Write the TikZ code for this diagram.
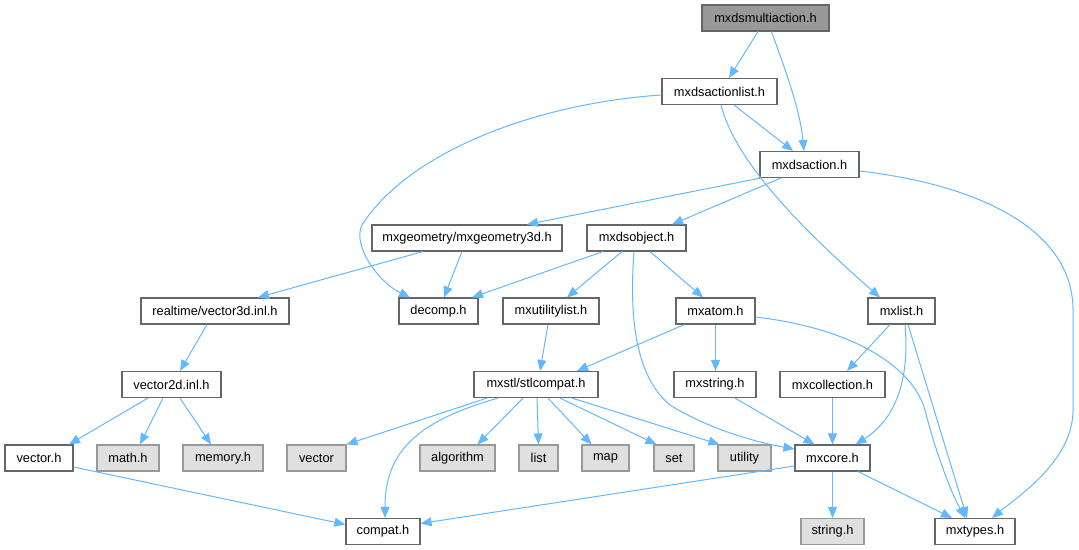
\documentclass[tikz,border=0pt]{standalone}
\usepackage{fontspec}
\setmainfont{Liberation Sans}
\usetikzlibrary{arrows.meta,calc}
\definecolor{eblue}{HTML}{63B8FF}
\definecolor{dgray}{HTML}{666666}
\definecolor{lgray}{HTML}{999999}
\definecolor{efill}{HTML}{E0E0E0}
\definecolor{rootfill}{HTML}{999999}
\tikzset{
  hnode/.style={draw=dgray, fill=white, line width=1.1pt, inner sep=0pt, minimum height=26pt,
    font=\fontsize{12.8}{15}\selectfont, text=black},
  ext/.style={hnode, draw=lgray, fill=efill},
  root/.style={hnode, fill=rootfill},
  edge/.style={draw=eblue, line width=1pt, -{Triangle[length=11pt,width=9pt]}},
}
\begin{document}
\begin{tikzpicture}[x=1pt,y=-1pt]
\useasboundingbox (0,0) rectangle (1079,549);
% nodes
\node[root, minimum width=127pt] (multi) at (765.5,18) {mxdsmultiaction.h};
\node[hnode, minimum width=115pt] (actlist) at (719.5,91.5) {mxdsactionlist.h};
\node[hnode, minimum width=99pt] (action) at (809.5,164.5) {mxdsaction.h};
\node[hnode, minimum width=190pt] (geom) at (467,238) {mxgeometry/mxgeometry3d.h};
\node[hnode, minimum width=99pt] (dsobj) at (636.5,238) {mxdsobject.h};
\node[hnode, minimum width=148pt] (v3d) at (215,311) {realtime/vector3d.inl.h};
\node[hnode, minimum width=79pt] (decomp) at (438.5,311) {decomp.h};
\node[hnode, minimum width=96pt] (utillist) at (551,311) {mxutilitylist.h};
\node[hnode, minimum width=79pt] (atom) at (715.5,311) {mxatom.h};
\node[hnode, minimum width=67pt] (mxlist) at (901.5,311) {mxlist.h};
\node[hnode, minimum width=99pt] (v2d) at (171.5,384.5) {vector2d.inl.h};
\node[hnode, minimum width=124pt] (stl) at (536,384.5) {mxstl/stlcompat.h};
\node[hnode, minimum width=82pt] (string) at (715,384.5) {mxstring.h};
\node[hnode, minimum width=105pt] (coll) at (832.5,384.5) {mxcollection.h};
\node[hnode, minimum width=68pt] (vectorh) at (39,458) {vector.h};
\node[ext, minimum width=62pt] (math) at (128,458) {math.h};
\node[ext, minimum width=80pt] (memory) at (223,458) {memory.h};
\node[ext, minimum width=59pt] (vector) at (316.5,458) {vector};
\node[ext, minimum width=75pt] (algorithm) at (457.5,458) {algorithm};
\node[ext, minimum width=39pt] (list) at (538.5,458) {list};
\node[ext, minimum width=47pt] (map) at (605.5,458) {map};
\node[ext, minimum width=40pt] (set) at (674,458) {set};
\node[ext, minimum width=53pt] (utility) at (744.5,458) {utility};
\node[hnode, minimum width=75pt] (mxcore) at (832.5,458) {mxcore.h};
\node[hnode, minimum width=74pt] (compat) at (383,531.5) {compat.h};
\node[ext, minimum width=63pt] (stringh) at (832.5,531.5) {string.h};
\node[hnode, minimum width=80pt] (mxtypes) at (975,531.5) {mxtypes.h};
% edges
\draw[edge] ($(multi.south)+(-7.5,0)$) -- ($(actlist.north)+(9.5,0)$);
\draw[edge] ($(multi.south)+(6,0)$) .. controls +(14,39) and +(-4,-41.5) .. ($(action.north)+(-5.5,0)$);
\draw[edge] ($(actlist.south)+(14.5,0)$) -- ($(action.north)+(-16.5,0)$);
\draw[edge] ($(actlist.west)+(0,3.5)$) .. controls (540,103) and (410,150) .. (362,225) .. controls (352,245) and (378,282) .. ($(decomp.north)+(-28.5,0)$);
\draw[edge] ($(actlist.south)+(1.5,0)$) .. controls +(14,55.5) and +(-80,-70) .. ($(mxlist.north)+(-21.5,0)$);
\draw[edge] ($(action.south west)+(1,0)$) -- ($(geom.north)+(60,0)$);
\draw[edge] ($(action.south)+(-28.5,0)$) -- ($(dsobj.north)+(35.5,0)$);
\draw[edge] ($(action.east)+(0,6.5)$) .. controls (980,185) and (1073,230) .. (1073,310) -- (1073,410) .. controls (1073,460) and (1020,495) .. ($(mxtypes.north)+(17,0)$);
\draw[edge] ($(geom.south)+(-44,0)$) -- ($(v3d.north)+(43,0)$);
\draw[edge] ($(geom.south)+(-5,0)$) -- ($(decomp.north)+(5.5,0)$);
\draw[edge] ($(dsobj.south)+(-33.5,0)$) -- ($(decomp.north)+(33.5,0)$);
\draw[edge] ($(dsobj.south)+(-14.5,0)$) -- ($(utillist.north)+(16,0)$);
\draw[edge] ($(dsobj.south)+(13.5,0)$) -- ($(atom.north)+(-12.5,0)$);
\draw[edge] ($(dsobj.south)+(-2.5,0)$) .. controls (628,330) and (640,380) .. (670,405) .. controls (710,430) and (760,443) .. ($(mxcore.west)+(0,-9)$);
\draw[edge] ($(v3d.south)+(-8,0)$) -- ($(v2d.north)+(8.5,0)$);
\draw[edge] ($(v2d.south)+(-23.5,0)$) -- ($(vectorh.north)+(30,0)$);
\draw[edge] ($(v2d.south)+(-8.5,0)$) -- ($(math.north)+(12,0)$);
\draw[edge] ($(v2d.south)+(8.5,0)$) -- ($(memory.north)+(-12,0)$);
\draw[edge] ($(vectorh.east)+(0,9)$) -- ($(compat.west)+(0,-7)$);
\draw[edge] ($(utillist.south)+(-3,0)$) -- ($(stl.north)+(4,0)$);
\draw[edge] ($(atom.south west)+(9,0)$) -- ($(stl.north)+(41,0)$);
\draw[edge] (atom.south) -- (atom.south |- string.north);
\draw[edge] ($(atom.east)+(0,6)$) .. controls (850,328) and (912,365) .. (925,410) .. controls (935,450) and (950,490) .. ($(mxtypes.north)+(-10,0)$);
\draw[edge] ($(mxlist.south)+(-11.5,0)$) -- ($(coll.north)+(14.5,0)$);
\draw[edge] ($(mxlist.south)+(3.5,0)$) .. controls +(5,56) and +(39.5,-25) .. ($(mxcore.north)+(23,0)$);
\draw[edge] ($(mxlist.south)+(6.5,0)$) -- ($(mxtypes.north)+(-8,0)$);
\draw[edge] ($(stl.south)+(-49,0)$) -- (vector.north east);
\draw[edge] ($(stl.south)+(-38,0)$) .. controls +(-78,22.5) and +(0,-68.5) .. ($(compat.north)+(2,0)$);
\draw[edge] ($(stl.south)+(-13,0)$) -- ($(algorithm.north)+(20,0)$);
\draw[edge] ($(stl.south)+(1,0)$) -- (list.north);
\draw[edge] ($(stl.south)+(12,0)$) -- ($(map.north)+(-14,0)$);
\draw[edge] ($(stl.south)+(24,0)$) -- ($(set.north west)+(3,0)$);
\draw[edge] ($(stl.south)+(36,0)$) -- ($(utility.north west)+(2,0)$);
\draw[edge] ($(string.south)+(20,0)$) -- ($(mxcore.north)+(-18,0)$);
\draw[edge] (coll.south) -- (mxcore.north);
\draw[edge] ($(mxcore.west)+(0,8)$) -- ($(compat.east)+(0,-8)$);
\draw[edge] (mxcore.south) -- (stringh.north);
\draw[edge] ($(mxcore.south)+(25.5,0)$) -- ($(mxtypes.north)+(-23,0)$);
\end{tikzpicture}
\end{document}
